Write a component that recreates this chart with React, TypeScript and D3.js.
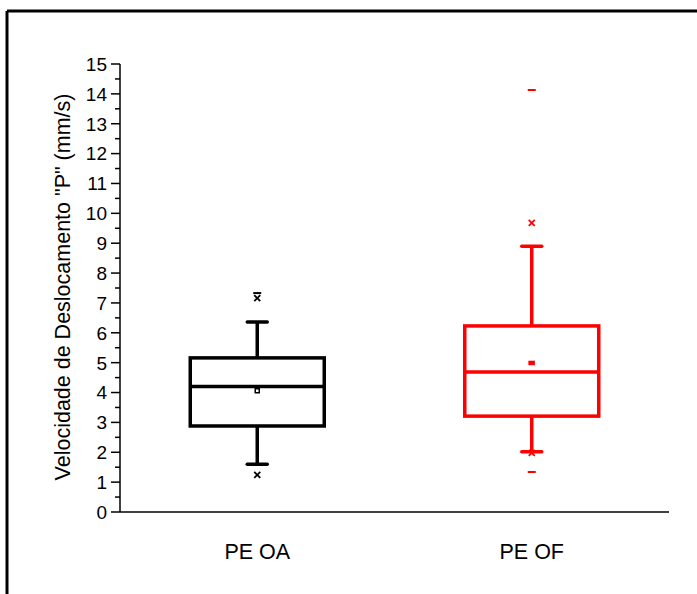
import React from "react";
import * as d3 from "d3";

const categories = ["PE OA", "PE OF"];
const colors = ["#000000", "#ff0000"];
const q1 = [2.88, 3.21];
const medians = [4.2, 4.69];
const q3 = [5.16, 6.23];
const whiskerLow = [1.6, 2.02];
const whiskerHigh = [6.36, 8.9];
const means = [4.06, 4.99];
const p1 = [1.24, 1.98];
const p99 = [7.16, 9.68];
const mins: (number | null)[] = [null, 1.34];
const maxs = [7.33, 14.13];
const yTicks = d3.range(0, 16, 1);
const yMinorTicks = d3.range(0.5, 15, 1);

const W = 697;
const H = 594;

export default function App() {
  const x = d3.scalePoint<string>().domain(categories).range([120, 669]).padding(0.5);
  const y = d3.scaleLinear().domain([0, 15]).range([512, 64]);
  const boxW = 134;
  const capW = 20;
  const font = "Liberation Sans, Arial, sans-serif";

  return (
    <svg width={W} height={H} style={{ position: "absolute", left: 0, top: 0, background: "#fff" }}>
      <rect x={0} y={0} width={W} height={H} fill="#fff" />
      {/* frame */}
      <line x1={7} y1={11} x2={W} y2={11} stroke="#000" strokeWidth={3} />
      <line x1={7} y1={11} x2={7} y2={H} stroke="#000" strokeWidth={3} />

      {/* y axis */}
      <line x1={120} y1={y(15)} x2={120} y2={y(0)} stroke="#000" strokeWidth={1.5} />
      {yTicks.map((t) => (
        <g key={"t" + t}>
          <line x1={111} x2={120} y1={y(t)} y2={y(t)} stroke="#000" strokeWidth={1.5} />
          <text x={107} y={y(t)} dy="0.36em" textAnchor="end" fontFamily={font} fontSize={19} fill="#000">
            {t}
          </text>
        </g>
      ))}
      {yMinorTicks.map((t) => (
        <line key={"m" + t} x1={115} x2={120} y1={y(t)} y2={y(t)} stroke="#000" strokeWidth={1.5} />
      ))}
      {/* x axis */}
      <line x1={120} y1={y(0)} x2={669} y2={y(0)} stroke="#000" strokeWidth={1.5} />
      {categories.map((c) => (
        <text key={c} x={x(c)} y={551} dy="0.36em" textAnchor="middle" fontFamily={font} fontSize={21.5} fill="#000">
          {c}
        </text>
      ))}
      <text
        transform={`translate(62,287) rotate(-90)`}
        textAnchor="middle"
        dy="0.36em"
        fontFamily={font}
        fontSize={21.5}
        fill="#000"
      >
        Velocidade de Deslocamento "P" (mm/s)
      </text>

      {categories.map((c, i) => {
        const cx = x(c) as number;
        const col = colors[i];
        const sw = 3.5;
        const xm = (v: number, k: string) => {
          const yy = y(v);
          const s = 3;
          return (
            <g key={k}>
              <line x1={cx - s} y1={yy - s} x2={cx + s} y2={yy + s} stroke={col} strokeWidth={1.8} />
              <line x1={cx - s} y1={yy + s} x2={cx + s} y2={yy - s} stroke={col} strokeWidth={1.8} />
            </g>
          );
        };
        const dash = (v: number, k: string) => (
          <line key={k} x1={cx - 4} x2={cx + 4} y1={y(v)} y2={y(v)} stroke={col} strokeWidth={2} />
        );
        return (
          <g key={c}>
            <line x1={cx} x2={cx} y1={y(q3[i])} y2={y(whiskerHigh[i])} stroke={col} strokeWidth={sw} />
            <line x1={cx} x2={cx} y1={y(q1[i])} y2={y(whiskerLow[i])} stroke={col} strokeWidth={sw} />
            <line x1={cx - capW / 2} x2={cx + capW / 2} y1={y(whiskerHigh[i])} y2={y(whiskerHigh[i])} stroke={col} strokeWidth={sw} strokeLinecap="round" />
            <line x1={cx - capW / 2} x2={cx + capW / 2} y1={y(whiskerLow[i])} y2={y(whiskerLow[i])} stroke={col} strokeWidth={sw} strokeLinecap="round" />
            <rect
              x={cx - boxW / 2}
              y={y(q3[i])}
              width={boxW}
              height={y(q1[i]) - y(q3[i])}
              fill="none"
              stroke={col}
              strokeWidth={sw}
            />
            <line x1={cx - boxW / 2} x2={cx + boxW / 2} y1={y(medians[i])} y2={y(medians[i])} stroke={col} strokeWidth={sw} />
            {i === 0 ? (
              <rect x={cx - 2} y={y(means[i]) - 2} width={4} height={4} fill="#fff" stroke={col} strokeWidth={1.5} />
            ) : (
              <rect x={cx - 3} y={y(means[i]) - 2} width={6} height={4} fill={col} stroke={col} strokeWidth={0.5} />
            )}
            {xm(p1[i], "p1")}
            {xm(p99[i], "p99")}
            {mins[i] !== null ? dash(mins[i] as number, "min") : null}
            {dash(maxs[i], "max")}
          </g>
        );
      })}
    </svg>
  );
}
